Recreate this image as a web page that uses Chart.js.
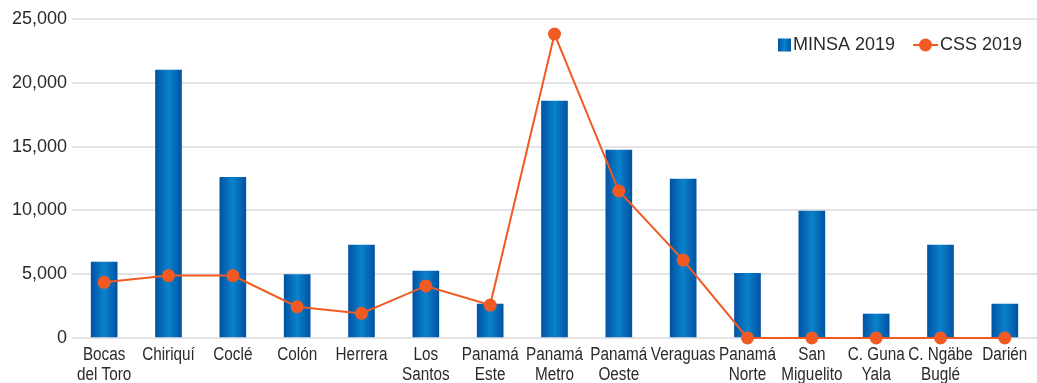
<!DOCTYPE html>
<html lang="es">
<head>
<meta charset="utf-8">
<title>MINSA 2019 y CSS 2019 por región</title>
<script src="https://cdn.jsdelivr.net/npm/chart.js@4/dist/chart.umd.min.js"></script>
<style>
  html, body { margin: 0; padding: 0; background: #ffffff; }
  #wrap { width: 1037px; height: 383px; }
</style>
</head>
<body>
<div id="wrap"><canvas id="chart" width="1037" height="383"></canvas></div>
<script>
// Regions (multi-line labels as drawn under the axis)
const regions = [
  ['Bocas', 'del Toro'], 'Chiriquí', 'Coclé', 'Colón', 'Herrera',
  ['Los', 'Santos'], ['Panamá', 'Este'], ['Panamá', 'Metro'], ['Panamá', 'Oeste'],
  'Veraguas', ['Panamá', 'Norte'], ['San', 'Miguelito'], ['C. Guna', 'Yala'],
  ['C. Ngäbe', 'Buglé'], 'Darién'
];

// MINSA 2019 (bars)
const minsa2019 = [5950, 21000, 12600, 4980, 7290, 5250, 2660, 18560, 14730, 12460, 5070, 9950, 1880, 7290, 2660];

// CSS 2019 (line)
const css2019 = [4360, 4890, 4890, 2450, 1930, 4080, 2580, 23820, 11520, 6110, 0, 0, 0, 0, 0];

// Value axis ticks
const yTicks = [0, 5000, 10000, 15000, 20000, 25000];

const seriesNames = { minsa: 'MINSA 2019', css: 'CSS 2019' };

const BLUE_EDGE = '#0153a3';
const BLUE_MID = '#0a82cc';
const ORANGE = '#f15a22';
const TEXT = '#2a2a2a';
const GRID = '#e4e4e6';
const SANS = '"Liberation Sans", Arial, sans-serif';

function blueGradient(ctx, x0, x1) {
  const g = ctx.createLinearGradient(x0, 0, x1, 0);
  g.addColorStop(0, BLUE_EDGE);
  g.addColorStop(0.5, BLUE_MID);
  g.addColorStop(1, BLUE_EDGE);
  return g;
}

// Give each bar a horizontal shaded fill across its own width
const barShading = {
  id: 'barShading',
  beforeDatasetsDraw(chart) {
    const ctx = chart.ctx;
    chart.data.datasets.forEach((ds, di) => {
      if (ds.type !== 'bar') return;
      chart.getDatasetMeta(di).data.forEach(el => {
        const half = el.width / 2;
        el.options = Object.assign({}, el.options, {
          backgroundColor: blueGradient(ctx, el.x - half, el.x + half)
        });
      });
    });
  }
};

// Condensed category labels under the plot, one or two lines each
const categoryLabels = {
  id: 'categoryLabels',
  afterDraw(chart) {
    const ctx = chart.ctx;
    const xs = chart.scales.x;
    const squeeze = 0.85;
    ctx.save();
    ctx.font = '18px ' + SANS;
    ctx.fillStyle = TEXT;
    ctx.textAlign = 'center';
    ctx.textBaseline = 'alphabetic';
    chart.data.labels.forEach((lab, i) => {
      const lines = Array.isArray(lab) ? lab : [lab];
      const x = xs.getPixelForTick(i);
      lines.forEach((t, k) => {
        ctx.save();
        ctx.translate(x, xs.top + 22 + k * 20);
        ctx.scale(squeeze, 1);
        ctx.fillText(t, 0, 0);
        ctx.restore();
      });
    });
    ctx.restore();
  }
};

// Legend drawn inside the plot, top right
const insideLegend = {
  id: 'insideLegend',
  afterDraw(chart) {
    const ctx = chart.ctx;
    const cy = 45;
    ctx.save();
    ctx.font = '18px ' + SANS;
    ctx.textBaseline = 'middle';

    // bar swatch
    const sx = 778, size = 13;
    ctx.fillStyle = blueGradient(ctx, sx, sx + size);
    ctx.fillRect(sx, cy - size / 2, size, size);
    ctx.fillStyle = TEXT;
    ctx.fillText(seriesNames.minsa, sx + size + 2, cy);

    // line swatch
    const lx = 913;
    ctx.strokeStyle = ORANGE;
    ctx.lineWidth = 2;
    ctx.beginPath();
    ctx.moveTo(lx, cy);
    ctx.lineTo(lx + 25, cy);
    ctx.stroke();
    ctx.fillStyle = ORANGE;
    ctx.beginPath();
    ctx.arc(lx + 12.5, cy, 6.5, 0, Math.PI * 2);
    ctx.fill();
    ctx.fillStyle = TEXT;
    ctx.fillText(seriesNames.css, lx + 27, cy);
    ctx.restore();
  }
};

new Chart(document.getElementById('chart'), {
  data: {
    labels: regions,
    datasets: [
      {
        type: 'line',
        label: seriesNames.css,
        data: css2019,
        borderColor: ORANGE,
        backgroundColor: ORANGE,
        borderWidth: 2,
        pointRadius: 6.5,
        pointBorderWidth: 0,
        pointBackgroundColor: ORANGE,
        tension: 0,
        clip: false,
        order: 0
      },
      {
        type: 'bar',
        label: seriesNames.minsa,
        data: minsa2019,
        backgroundColor: BLUE_EDGE,
        barThickness: 26,
        order: 1
      }
    ]
  },
  options: {
    responsive: false,
    animation: false,
    layout: { autoPadding: false, padding: { top: 19, right: 0, bottom: 0, left: 0 } },
    plugins: {
      legend: { display: false },
      tooltip: { enabled: false }
    },
    scales: {
      x: {
        offset: true,
        grid: { display: false },
        border: { display: false },
        ticks: { display: false },
        afterFit(scale) {
          scale.height = 45;
          scale.paddingLeft = 0;
          scale.paddingRight = 0;
        }
      },
      y: {
        min: yTicks[0],
        max: yTicks[yTicks.length - 1],
        afterBuildTicks(scale) { scale.ticks = yTicks.map(v => ({ value: v })); },
        grid: { color: GRID, lineWidth: 2, drawTicks: false },
        border: { display: false },
        ticks: {
          color: TEXT,
          padding: 5,
          font: { family: SANS, size: 18 },
          callback: v => v.toLocaleString('en-US')
        },
        afterFit(scale) { scale.width = 72; }
      }
    }
  },
  plugins: [barShading, categoryLabels, insideLegend]
});
</script>
</body>
</html>
